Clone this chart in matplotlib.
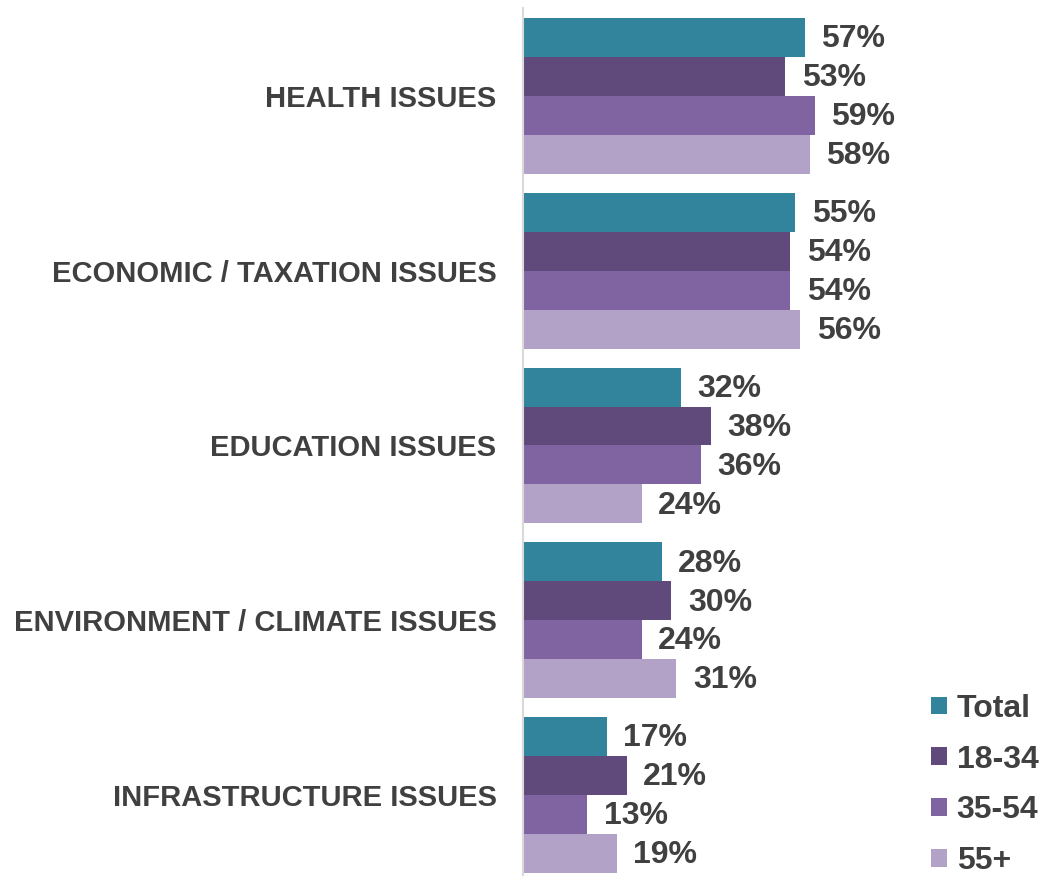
import numpy as np
import matplotlib.pyplot as plt
from matplotlib.patches import Patch

plt.rcParams['font.family'] = ['Liberation Sans', 'DejaVu Sans']

categories = ['HEALTH ISSUES', 'ECONOMIC / TAXATION ISSUES', 'EDUCATION ISSUES',
              'ENVIRONMENT / CLIMATE ISSUES', 'INFRASTRUCTURE ISSUES']
series_names = ['Total', '18-34', '35-54', '55+']
total = [57, 55, 32, 28, 17]
age_18_34 = [53, 54, 38, 30, 21]
age_35_54 = [59, 54, 36, 24, 13]
age_55_plus = [58, 56, 24, 31, 19]
colors = ['#31849B', '#604A7B', '#8064A2', '#B3A2C7']

text_color = '#404040'

fig = plt.figure(figsize=(10.41, 8.76), dpi=100)
ax = fig.add_axes([0.5024, 0.0, 0.4755, 0.9909])

y = np.arange(len(categories))
h = 0.223
series = [total, age_18_34, age_35_54, age_55_plus]
for k, (vals, col) in enumerate(zip(series, colors)):
    pos = y + (k - 1.5) * h
    ax.barh(pos, vals, height=h, color=col, edgecolor='none')
    for p, v in zip(pos, vals):
        ax.text(v + 3.3, p + 0.01, f'{v}%', va='center', ha='left',
                fontsize=23, fontweight='bold', color=text_color)

ax.set_xlim(0, 100)
ax.set_ylim(4.4635, -0.5036)
ax.set_yticks(y)
ax.set_yticklabels(categories, fontsize=21, fontweight='bold', color=text_color)
ax.tick_params(axis='y', length=0, pad=19)
ax.set_xticks([])
for s in ['top', 'right', 'bottom']:
    ax.spines[s].set_visible(False)
ax.spines['left'].set_color('#d9d9d9')
ax.spines['left'].set_linewidth(1.5)

handles = [Patch(facecolor=c, edgecolor='none') for c in colors]
leg = fig.legend(handles, series_names, loc='lower right',
                 bbox_to_anchor=(1.016, -0.022), frameon=False,
                 prop={'size': 23, 'weight': 'bold'},
                 handlelength=0.48, handleheight=0.48, handletextpad=0.32,
                 labelspacing=0.65, borderaxespad=0.2)
for t in leg.get_texts():
    t.set_color(text_color)

fig.savefig('out.png', dpi=100)
